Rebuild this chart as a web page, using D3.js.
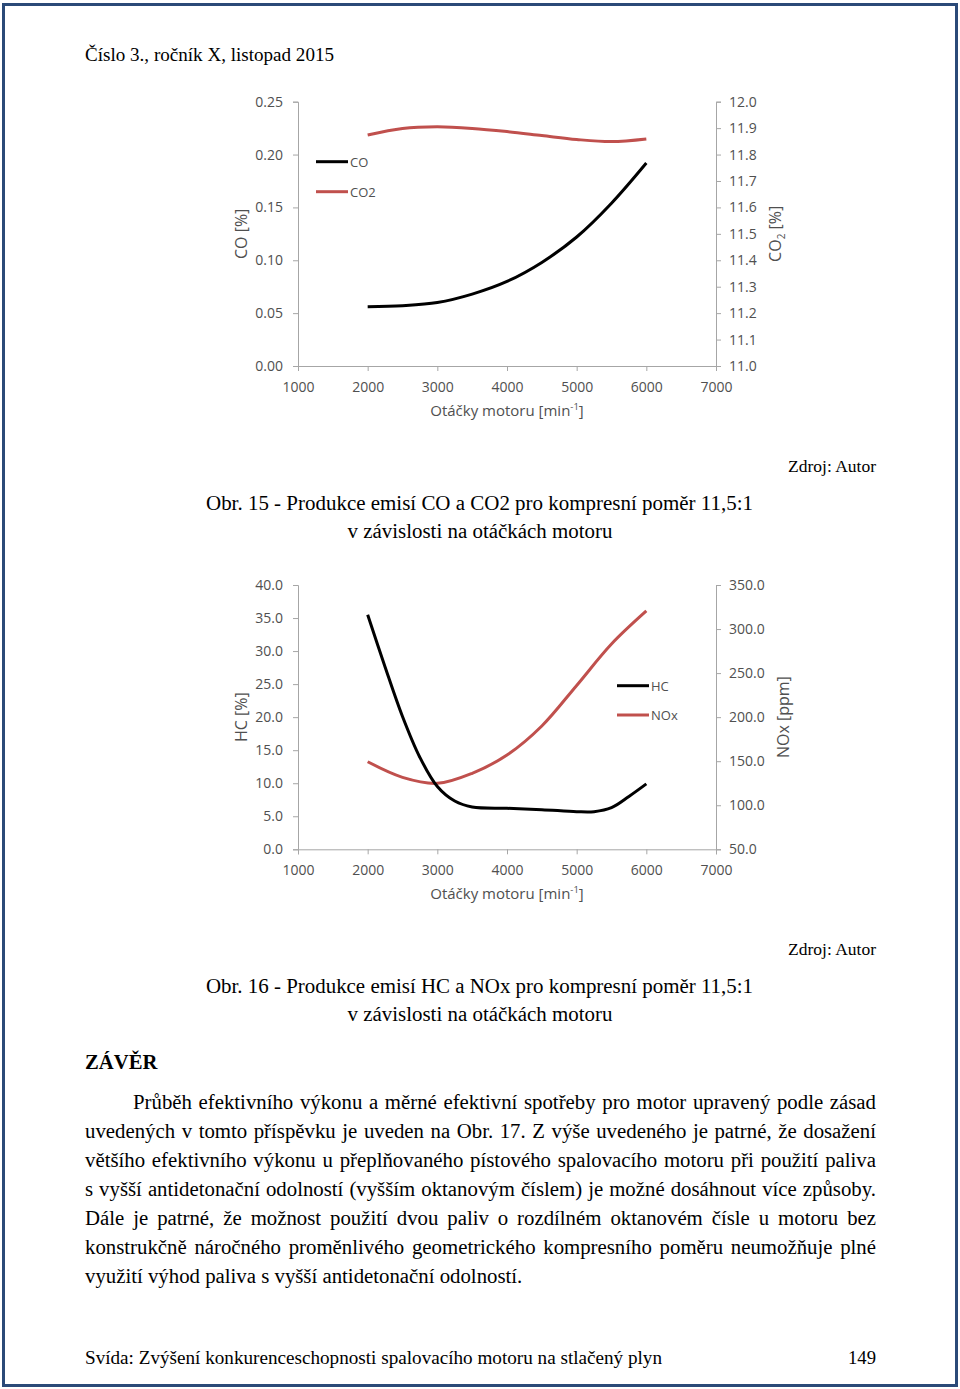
<!DOCTYPE html>
<html><head><meta charset="utf-8">
<script src="https://cdn.jsdelivr.net/npm/d3@7"></script>
<style>body{margin:0;background:#fff}svg{display:block}</style>
</head><body>
<script>
// ---------- data ----------
const rpmTicks = [1000,2000,3000,4000,5000,6000,7000];
const rpm1 = [2000,2500,3000,3500,4000,4500,5000,5500,6000];
const coVals = [0.056,0.057,0.060,0.068,0.080,0.098,0.122,0.154,0.192];
const co2Vals = [11.874,11.899,11.905,11.899,11.887,11.872,11.857,11.849,11.859];
const coTicks = [0,0.05,0.10,0.15,0.20,0.25];
const co2Ticks = [11.0,11.1,11.2,11.3,11.4,11.5,11.6,11.7,11.8,11.9,12.0];

const rpmHc = [2000,2250,2500,2750,3000,3250,3500,4000,4500,5000,5250,5500,5750,6000];
const hcVals = [35.5,27.6,20.1,13.9,9.5,7.3,6.4,6.2,6.0,5.7,5.7,6.3,8.0,9.9];
const rpmNox = [2000,2500,3000,3500,4000,4500,5000,5500,6000];
const noxVals = [149.4,131.7,124.9,136.3,157.0,190.0,236.0,283.0,320.5];
const hcTicks = [0,5,10,15,20,25,30,35,40];
const noxTicks = [50,100,150,200,250,300,350];

const bodyLines = [
 "Průběh efektivního výkonu a měrné efektivní spotřeby pro motor upravený podle zásad",
 "uvedených v tomto příspěvku je uveden na Obr. 17. Z výše uvedeného je patrné, že dosažení",
 "většího efektivního výkonu u přeplňovaného pístového spalovacího motoru při použití paliva",
 "s vyšší antidetonační odolností (vyšším oktanovým číslem) je možné dosáhnout více způsoby.",
 "Dále je patrné, že možnost použití dvou paliv o rozdílném oktanovém čísle u motoru bez",
 "konstrukčně náročného proměnlivého geometrického kompresního poměru neumožňuje plné",
 "využití výhod paliva s vyšší antidetonační odolností."
];

// ---------- page ----------
const W = 960, H = 1389;
const svg = d3.select("body").append("svg").attr("width", W).attr("height", H);
svg.append("rect").attr("x",3.5).attr("y",4.5).attr("width",953).attr("height",1381)
  .attr("fill","none").attr("stroke","#2b4a78").attr("stroke-width",3);

const serif = "'Liberation Serif','Times New Roman',serif";
const sans = "'Open Sans','Liberation Sans',sans-serif";
const AX = "#a6a6a6", TX = "#505050", RED = "#c0504d";

function txt(s, x, y, opts={}) {
  const t = svg.append("text").attr("x",x).attr("y",y).text(s)
    .attr("font-family", opts.family || serif).attr("font-size", opts.size || 19)
    .attr("fill", opts.fill || "#000");
  if (opts.anchor) t.attr("text-anchor", opts.anchor);
  if (opts.weight) t.attr("font-weight", opts.weight);
  if (opts.len) t.attr("textLength", opts.len).attr("lengthAdjust","spacingAndGlyphs");
  return t;
}

txt("Číslo 3., ročník X, listopad 2015", 85, 61, {size:18, len:249});

// ---------- charts ----------
const x = d3.scaleLinear().domain([1000,7000]).range([298,716]);

function chart(cfg) {
  const g = svg.append("g");
  const yL = d3.scaleLinear().domain(cfg.lDom).range([cfg.bottom, cfg.top]);
  const yR = d3.scaleLinear().domain(cfg.rDom).range([cfg.bottom, cfg.top]);
  const style = sel => {
    sel.selectAll("path.domain").attr("stroke", AX);
    sel.selectAll(".tick line").attr("stroke", AX);
    sel.selectAll(".tick text").attr("fill", TX).attr("font-family", sans).attr("font-size", 14);
  };
  g.append("g").attr("transform",`translate(0,${cfg.bottom})`)
    .call(d3.axisBottom(x).tickValues(rpmTicks).tickSizeOuter(0).tickSize(5).tickPadding(11).tickFormat(d3.format("d")))
    .call(style);
  g.append("g").attr("transform",`translate(298,0)`)
    .call(d3.axisLeft(yL).tickValues(cfg.lTicks).tickSizeOuter(0).tickSize(5).tickPadding(10).tickFormat(cfg.lFmt))
    .call(style);
  g.append("g").attr("transform",`translate(716,0)`)
    .call(d3.axisRight(yR).tickValues(cfg.rTicks).tickSizeOuter(0).tickSize(5).tickPadding(8).tickFormat(cfg.rFmt))
    .call(style);

  const line = (ys) => d3.line().x(d=>x(d[0])).y(d=>ys(d[1])).curve(d3.curveCatmullRom.alpha(0.5));
  g.append("path").datum(d3.zip(cfg.rX, cfg.rY)).attr("d", line(yR))
    .attr("fill","none").attr("stroke",RED).attr("stroke-width",3);
  g.append("path").datum(d3.zip(cfg.lX, cfg.lY)).attr("d", line(yL))
    .attr("fill","none").attr("stroke","#000").attr("stroke-width",3);

  // legend
  const lg = cfg.legend;
  [[lg.names[0],"#000",lg.y0],[lg.names[1],RED,lg.y0+lg.dy]].forEach(([n,c,yy])=>{
    g.append("line").attr("x1",lg.x).attr("x2",lg.x+32).attr("y1",yy).attr("y2",yy)
      .attr("stroke",c).attr("stroke-width",3);
    g.append("text").attr("x",lg.x+34).attr("y",yy+5).text(n)
      .attr("font-family",sans).attr("font-size",13).attr("fill",TX);
  });

  // axis titles
  const xt = g.append("text").attr("x",507).attr("y",cfg.bottom+50).attr("text-anchor","middle")
    .attr("font-family",sans).attr("font-size",15).attr("fill",TX);
  xt.append("tspan").text("Otáčky motoru [min");
  xt.append("tspan").text("-1").attr("font-size",9.5).attr("dy",-6);
  xt.append("tspan").text("]").attr("dy",6);

  const mid = (cfg.top+cfg.bottom)/2;
  const lt = g.append("text").attr("transform",`translate(${cfg.lLabelX},${mid}) rotate(-90)`)
    .attr("text-anchor","middle").attr("font-family",sans).attr("font-size",16).attr("fill",TX);
  cfg.lLabel(lt);
  const rt = g.append("text").attr("transform",`translate(${cfg.rLabelX},${mid}) rotate(-90)`)
    .attr("text-anchor","middle").attr("font-family",sans).attr("font-size",16).attr("fill",TX);
  cfg.rLabel(rt);
}

chart({
  top:101.7, bottom:366, lDom:[0,0.25], rDom:[11,12],
  lTicks:coTicks, rTicks:co2Ticks, lFmt:d3.format(".2f"), rFmt:d3.format(".1f"),
  lX:rpm1, lY:coVals, rX:rpm1, rY:co2Vals,
  legend:{x:316, y0:161.7, dy:30, names:["CO","CO2"]},
  lLabelX:247, rLabelX:781,
  lLabel:t=>t.text("CO [%]"),
  rLabel:t=>{t.append("tspan").text("CO");t.append("tspan").text("2").attr("font-size",10).attr("dy",4);
             t.append("tspan").text(" [%]").attr("dy",-4);}
});

chart({
  top:585, bottom:849.3, lDom:[0,40], rDom:[50,350],
  lTicks:hcTicks, rTicks:noxTicks, lFmt:d3.format(".1f"), rFmt:d3.format(".1f"),
  lX:rpmHc, lY:hcVals, rX:rpmNox, rY:noxVals,
  legend:{x:617, y0:685.7, dy:29.3, names:["HC","NOx"]},
  lLabelX:247, rLabelX:789,
  lLabel:t=>t.text("HC [%]"),
  rLabel:t=>t.text("NOx [ppm]")
});

// ---------- captions ----------
txt("Zdroj: Autor", 876, 472, {size:17, anchor:"end", len:88});
txt("Obr. 15 - Produkce emisí CO a CO2 pro kompresní poměr 11,5:1", 206, 510, {size:20.5, len:547});
txt("v závislosti na otáčkách motoru", 480, 538, {size:20.5, anchor:"middle", len:265});
txt("Zdroj: Autor", 876, 955, {size:17, anchor:"end", len:88});
txt("Obr. 16 - Produkce emisí HC a NOx pro kompresní poměr 11,5:1", 206, 993, {size:20.5, len:547});
txt("v závislosti na otáčkách motoru", 480, 1021, {size:20.5, anchor:"middle", len:265});

txt("ZÁVĚR", 85, 1069, {size:20.7, weight:"bold"});

// justified paragraph
const bodySize = 20.8;
bodyLines.forEach((ln, i) => {
  const y = 1109 + i*29;
  const x0 = i === 0 ? 133 : 85, x1 = 876;
  const words = ln.split(" ");
  const t = svg.append("text").attr("y", y).attr("font-family", serif)
    .attr("font-size", bodySize).attr("fill","#000");
  const spans = words.map(w => t.append("tspan").text(w));
  const widths = spans.map(s => s.node().getComputedTextLength());
  const total = d3.sum(widths);
  const last = i === bodyLines.length-1;
  const spaceW = bodySize*0.25;
  let gap = last ? spaceW : (x1 - x0 - total)/(words.length-1);
  let scale = 1;
  if (gap < 2) { // too long: condense slightly
    gap = 2;
    scale = (x1 - x0 - gap*(words.length-1)) / total;
  }
  let cx = x0;
  spans.forEach((s,k)=>{
    s.attr("x", cx);
    if (scale < 1) s.attr("textLength", widths[k]*scale).attr("lengthAdjust","spacingAndGlyphs");
    cx += widths[k]*scale + gap;
  });
});

txt("Svída: Zvýšení konkurenceschopnosti spalovacího motoru na stlačený plyn", 85, 1364, {size:19, len:577});
txt("149", 876, 1364, {size:19, anchor:"end", len:28});
</script>
</body></html>
